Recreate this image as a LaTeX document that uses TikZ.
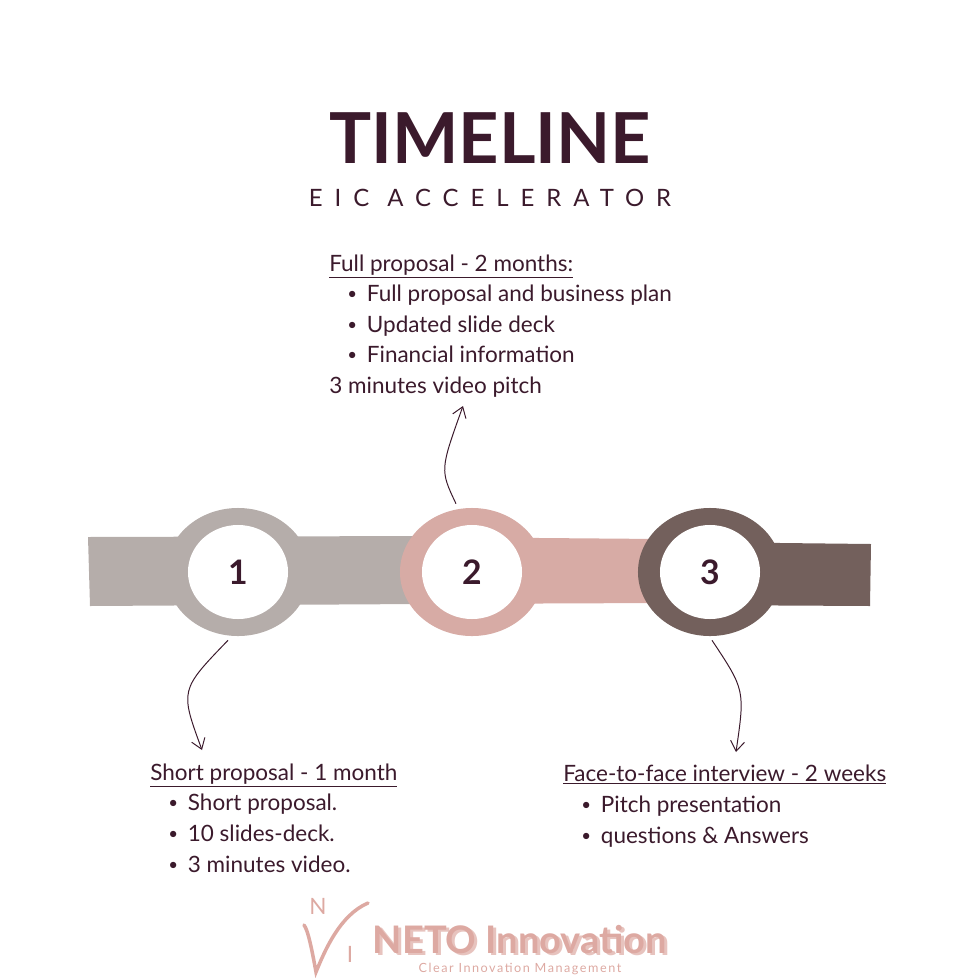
\documentclass[tikz,border=0pt]{standalone}
\usepackage{fontspec}
\setmainfont{Lato}
\usetikzlibrary{arrows.meta, shapes.geometric}
\definecolor{plum}{HTML}{3B1A2C}
\definecolor{stone}{HTML}{B5ADAA}
\definecolor{blush}{HTML}{D7ABA5}
\definecolor{mocha}{HTML}{73605C}
\definecolor{logopink}{HTML}{DDA9A2}
\newcommand{\ulin}[1]{\underline{#1}}
\newcommand{\dotitem}{\raisebox{0.15ex}{\scalebox{0.75}{\textbullet}}\hspace{7pt}}
\begin{document}
\begin{tikzpicture}[x=0.025cm, y=-0.025cm,
    outer/.style={ellipse, minimum width=3.6cm, minimum height=3.2cm, inner sep=0pt},
    inner/.style={ellipse, fill=white, minimum width=2.5cm, minimum height=2.35cm, inner sep=0pt,
                  font=\fontsize{24}{24}\selectfont\bfseries, text=plum},
    body/.style={anchor=base west, font=\fontsize{16}{18}\selectfont, text=plum, inner sep=0pt},
    head/.style={body},
    curvy/.style={-{Straight Barb[length=2.5mm, width=3.5mm]}, draw=plum, line width=0.7pt}
]
    \useasboundingbox (0,0) rectangle (980,980);

    % Title
    \node[font=\fontsize{50}{50}\selectfont\bfseries, text=plum] (title) at (490,138) {TIMELINE};
    \node[font=\fontsize{17}{17}\selectfont, text=plum] (sub) at (490,198)
        {\addfontfeature{LetterSpace=50}EIC ACCELERATOR};

    % Bands
    \fill[stone] (88,537) -- (420,536) -- (420,604) -- (90,606) -- cycle;
    \fill[blush] (420,537) -- (660,539) -- (662,603) -- (420,604) -- cycle;
    \fill[mocha] (690,542) -- (871,544) -- (870,606) -- (690,605) -- cycle;

    % Stages
    \node[outer, fill=stone] (ring1) at (238,572) {};
    \node[inner] (stage1) at (238,572) {1};
    \node[outer, fill=blush] (ring2) at (472,572) {};
    \node[inner] (stage2) at (472,572) {2};
    \node[outer, fill=mocha] (ring3) at (710,572) {};
    \node[inner] (stage3) at (710,572) {3};

    % Stage 2 text
    \node[head] (fullhead) at (329,271) {\ulin{Full proposal - 2 months:}};
    \node[body] (full1) at (347,301) {\dotitem Full proposal and business plan};
    \node[body] (full2) at (347,332) {\dotitem Updated slide deck};
    \node[body] (full3) at (347,362) {\dotitem Financial information};
    \node[body] (full4) at (329,393) {3 minutes video pitch};

    % Stage 1 text
    \node[head] (shorthead) at (150,780) {\ulin{Short proposal - 1 month}};
    \node[body] (short1) at (168,810) {\dotitem Short proposal.};
    \node[body] (short2) at (168,841) {\dotitem 10 slides-deck.};
    \node[body] (short3) at (168,872) {\dotitem 3 minutes video.};

    % Stage 3 text
    \node[head] (facehead) at (563,781) {\ulin{Face-to-face interview - 2 weeks}};
    \node[body] (face1) at (581,812) {\dotitem Pitch presentation};
    \node[body] (face2) at (581,843) {\dotitem questions \& Answers};

    % Arrows
    \coordinate (up) at (463,406);
    \coordinate (downl) at (202,750);
    \coordinate (downr) at (736,752);
    \draw[curvy] (ring2.north) ++(-16,-4) .. controls (440,470) .. (up);
    \draw[curvy] (ring1.south) ++(-10,4) .. controls (180,690) .. (downl);
    \draw[curvy] (ring3.south) ++(2,4) .. controls (745,690) .. (downr);

    % Logo
    \node[font=\fontsize{16}{16}\selectfont, text=logopink] (logoN) at (318,906) {N};
    \node[font=\fontsize{16}{16}\selectfont, text=logopink] (logoI) at (350,954) {I};
    \draw[logopink, line width=2.5pt, line cap=round] (368,903) .. controls (340,915) and (325,950) .. (316,972)
        .. controls (312,950) and (308,930) .. (304,925);
    \node[font=\fontsize{27}{27}\selectfont\bfseries, text=logopink!70] at (523,942) {NETO Innovation};
    \node[font=\fontsize{27}{27}\selectfont\bfseries, text=logopink] (logo) at (520,940) {NETO Innovation};
    \node[font=\fontsize{9}{9}\selectfont\addfontfeature{LetterSpace=12}, text=logopink] (tag) at (520,969)
        {Clear Innovation Management};
\end{tikzpicture}
\end{document}
